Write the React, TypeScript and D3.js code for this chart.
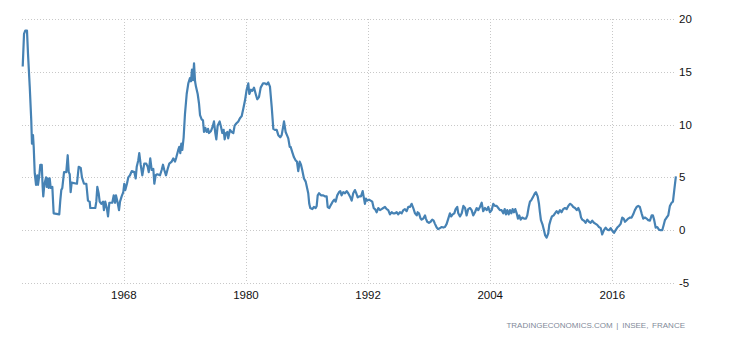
import React, { useEffect, useRef } from 'react';
import * as d3 from 'd3';

// France inflation rate (%, YoY)
const YEARS: number[] = [
  1958.07, 1958.2, 1958.32, 1958.49, 1958.59, 1958.76, 1958.91, 1958.98, 1959.08, 1959.15,
  1959.25, 1959.38, 1959.5, 1959.57, 1959.7, 1959.8, 1959.94, 1960.03, 1960.09, 1960.19,
  1960.36, 1960.43, 1960.52, 1960.62, 1960.72, 1960.82, 1960.98, 1961.11, 1961.66, 1961.76,
  1961.86, 1961.96, 1962.13, 1962.35, 1962.49, 1962.59, 1962.69, 1962.78, 1962.88, 1963.4,
  1963.57, 1963.77, 1963.89, 1964.09, 1964.32, 1964.48, 1964.65, 1964.71, 1965.07, 1965.2,
  1965.3, 1965.4, 1965.53, 1965.63, 1965.79, 1965.96, 1966.05, 1966.18, 1966.35, 1966.45,
  1966.58, 1966.87, 1967.01, 1967.14, 1967.23, 1967.4, 1967.53, 1967.63, 1967.79, 1967.95,
  1968.05, 1968.15, 1968.31, 1968.44, 1968.61, 1968.78, 1969.03, 1969.17, 1969.27, 1969.42,
  1969.52, 1969.66, 1969.82, 1970.01, 1970.21, 1970.35, 1970.45, 1970.6, 1970.74, 1970.9,
  1971.0, 1971.13, 1971.29, 1971.56, 1971.72, 1971.85, 1971.98, 1972.15, 1972.31, 1972.47,
  1972.71, 1972.86, 1973.03, 1973.16, 1973.35, 1973.45, 1973.55, 1973.65, 1973.75, 1973.88,
  1974.01, 1974.18, 1974.34, 1974.5, 1974.6, 1974.7, 1974.8, 1974.9, 1975.0, 1975.09,
  1975.26, 1975.39, 1975.49, 1975.65, 1975.78, 1975.88, 1976.01, 1976.14, 1976.27, 1976.37,
  1976.57, 1976.73, 1976.86, 1976.99, 1977.09, 1977.22, 1977.42, 1977.55, 1977.68, 1977.81,
  1977.91, 1978.04, 1978.17, 1978.26, 1978.43, 1978.6, 1978.76, 1978.89, 1979.05, 1979.25,
  1979.41, 1979.58, 1979.74, 1979.91, 1980.07, 1980.23, 1980.33, 1980.5, 1980.63, 1980.79,
  1980.96, 1981.11, 1981.28, 1981.45, 1981.67, 1981.87, 1982.04, 1982.19, 1982.36, 1982.53,
  1982.69, 1982.85, 1983.02, 1983.18, 1983.37, 1983.51, 1983.64, 1983.74, 1983.9, 1984.03,
  1984.16, 1984.3, 1984.39, 1984.55, 1984.72, 1984.89, 1985.01, 1985.14, 1985.28, 1985.41,
  1985.53, 1985.7, 1985.87, 1986.03, 1986.12, 1986.22, 1986.32, 1986.52, 1986.68, 1986.85,
  1986.95, 1987.05, 1987.18, 1987.37, 1987.6, 1987.76, 1987.93, 1988.03, 1988.19, 1988.35,
  1988.52, 1988.68, 1988.81, 1988.97, 1989.14, 1989.27, 1989.4, 1989.56, 1989.73, 1989.9,
  1990.05, 1990.22, 1990.39, 1990.54, 1990.71, 1990.84, 1990.98, 1991.13, 1991.3, 1991.47,
  1991.56, 1991.69, 1991.79, 1991.92, 1992.09, 1992.25, 1992.41, 1992.55, 1992.68, 1992.84,
  1993.0, 1993.17, 1993.33, 1993.49, 1993.66, 1993.83, 1993.98, 1994.15, 1994.32, 1994.47,
  1994.64, 1994.81, 1994.96, 1995.13, 1995.3, 1995.46, 1995.62, 1995.79, 1995.95, 1996.11,
  1996.28, 1996.44, 1996.61, 1996.78, 1996.87, 1997.0, 1997.16, 1997.26, 1997.42, 1997.59,
  1997.68, 1997.81, 1997.98, 1998.14, 1998.3, 1998.44, 1998.57, 1998.74, 1998.89, 1999.06,
  1999.23, 1999.39, 1999.55, 1999.72, 1999.88, 2000.04, 2000.17, 2000.31, 2000.47, 2000.6,
  2000.76, 2000.86, 2001.03, 2001.2, 2001.36, 2001.53, 2001.68, 2001.84, 2002.01, 2002.17,
  2002.33, 2002.5, 2002.67, 2002.82, 2002.99, 2003.16, 2003.31, 2003.48, 2003.65, 2003.81,
  2003.97, 2004.14, 2004.3, 2004.46, 2004.63, 2004.79, 2004.95, 2005.12, 2005.28, 2005.42,
  2005.54, 2005.67, 2005.81, 2005.94, 2006.07, 2006.2, 2006.33, 2006.46, 2006.6, 2006.72,
  2006.85, 2006.99, 2007.15, 2007.32, 2007.51, 2007.64, 2007.78, 2007.9, 2008.07, 2008.23,
  2008.39, 2008.49, 2008.66, 2008.79, 2008.88, 2008.98, 2009.15, 2009.28, 2009.4, 2009.54,
  2009.7, 2009.8, 2009.93, 2010.06, 2010.23, 2010.36, 2010.52, 2010.68, 2010.85, 2011.01,
  2011.17, 2011.34, 2011.51, 2011.67, 2011.83, 2012.0, 2012.16, 2012.33, 2012.5, 2012.66,
  2012.82, 2012.92, 2013.04, 2013.21, 2013.37, 2013.53, 2013.7, 2013.86, 2014.02, 2014.19,
  2014.36, 2014.51, 2014.68, 2014.85, 2015.0, 2015.17, 2015.34, 2015.5, 2015.66, 2015.83,
  2015.99, 2016.16, 2016.32, 2016.48, 2016.64, 2016.81, 2016.97, 2017.11, 2017.24, 2017.4,
  2017.56, 2017.73, 2017.89, 2018.05, 2018.21, 2018.38, 2018.54, 2018.7, 2018.87, 2019.03,
  2019.2, 2019.36, 2019.52, 2019.69, 2019.86, 2019.98, 2020.11, 2020.25, 2020.41, 2020.57,
  2020.74, 2020.9, 2021.04, 2021.16, 2021.33, 2021.49, 2021.65, 2021.82, 2021.95, 2022.08,
  2022.24,
];

const RATES: number[] = [
  15.5, 18.6, 18.9, 18.9, 16.7, 13.6, 10.4, 8.2, 9.0, 7.9,
  5.4, 4.3, 5.2, 4.3, 5.2, 6.2, 6.2, 4.1, 3.2, 4.3,
  5.0, 4.1, 4.9, 4.0, 4.9, 4.0, 4.1, 1.6, 1.5, 2.8,
  3.8, 4.0, 5.5, 5.5, 7.1, 5.5, 5.3, 3.6, 4.5, 4.4,
  6.0, 5.9, 5.0, 4.4, 4.4, 2.8, 2.7, 2.1, 2.1, 2.1,
  2.7, 4.1, 3.5, 2.7, 2.5, 2.7, 1.9, 2.7, 2.0, 1.3,
  2.6, 2.6, 3.3, 2.6, 3.3, 2.6, 1.9, 2.7, 3.2, 3.6,
  4.4, 3.8, 4.4, 5.0, 5.2, 5.6, 5.5, 4.9, 6.0, 6.6,
  7.3, 6.2, 5.2, 6.3, 6.3, 6.0, 5.5, 6.8, 5.7, 5.8,
  4.4, 5.2, 5.3, 5.2, 5.7, 6.2, 5.7, 5.2, 5.8, 6.3,
  6.5, 6.8, 6.5, 6.9, 7.6, 7.9, 7.3, 8.2, 7.6, 8.8,
  11.0, 12.9, 13.9, 14.4, 14.1, 15.2, 14.2, 15.8, 14.1, 13.6,
  12.9, 12.0, 10.9, 10.5, 10.4, 9.3, 9.7, 9.3, 9.6, 9.2,
  9.4, 9.8, 10.3, 9.2, 8.6, 9.9, 10.3, 9.8, 9.2, 9.5,
  8.6, 9.2, 9.3, 8.7, 9.5, 9.3, 9.2, 9.9, 10.1, 10.3,
  10.6, 10.8, 11.5, 12.3, 13.3, 13.9, 12.9, 13.3, 13.2, 13.5,
  12.9, 12.4, 12.6, 13.5, 13.9, 13.9, 13.8, 14.0, 13.6, 11.7,
  9.6, 9.5, 9.5, 9.0, 8.8, 9.0, 9.7, 10.3, 9.3, 9.0,
  8.7, 7.9, 7.9, 7.4, 6.9, 6.6, 6.5, 5.6, 6.5, 6.2,
  5.7, 4.9, 4.6, 3.9, 3.5, 2.5, 2.1, 2.0, 2.2, 2.1,
  2.3, 3.3, 3.5, 3.3, 3.3, 3.2, 3.2, 2.2, 2.1, 2.4,
  2.7, 2.9, 2.7, 3.3, 3.6, 3.7, 3.3, 3.6, 3.5, 3.7,
  3.5, 3.2, 2.8, 3.5, 3.8, 3.5, 3.1, 3.2, 3.2, 3.7,
  3.2, 2.5, 3.0, 2.8, 2.9, 2.8, 2.7, 2.1, 2.0, 1.7,
  2.1, 1.9, 2.0, 2.1, 2.2, 2.0, 1.9, 1.5, 1.7, 1.6,
  1.6, 1.7, 1.5, 1.7, 1.6, 1.9, 2.0, 1.8, 2.2, 2.2,
  2.5, 2.1, 1.6, 1.4, 1.7, 1.6, 1.1, 1.0, 1.1, 1.4,
  1.1, 0.8, 0.7, 0.8, 1.0, 0.9, 0.6, 0.25, 0.1, 0.2,
  0.3, 0.25, 0.3, 0.6, 1.1, 1.6, 1.3, 1.5, 1.6, 2.0,
  2.2, 1.6, 1.3, 1.6, 2.3, 2.1, 1.4, 2.0, 2.1, 1.9,
  1.4, 1.7, 2.1, 1.9, 2.2, 2.6, 1.8, 2.1, 1.9, 2.2,
  1.7, 1.9, 2.5, 2.3, 2.3, 2.1, 1.9, 1.9, 1.6, 2.0,
  1.5, 1.9, 1.5, 1.9, 1.6, 2.0, 1.7, 2.0, 1.6, 1.1,
  1.4, 1.0, 1.2, 1.1, 1.1, 1.4, 2.2, 2.7, 2.9, 3.2,
  3.5, 3.6, 3.2, 2.5, 1.7, 0.95, 0.5, 0.0, -0.5, -0.7,
  -0.3, 0.5, 0.95, 1.3, 1.4, 1.6, 1.8, 1.6, 1.9, 1.7,
  2.0, 2.1, 2.0, 2.3, 2.5, 2.4, 2.2, 2.1, 1.9, 2.1,
  1.7, 1.2, 1.0, 0.9, 0.7, 1.0, 0.8, 0.7, 0.9, 0.7,
  0.6, 0.5, 0.3, 0.2, -0.4, 0.0, 0.25, 0.05, 0.0, 0.2,
  -0.05, -0.25, 0.0, 0.25, 0.4, 0.6, 1.2, 1.1, 0.8, 0.95,
  1.1, 1.2, 1.2, 1.5, 1.9, 2.2, 2.3, 2.2, 1.6, 1.1,
  1.2, 1.1, 0.95, 0.9, 1.4, 1.4, 0.95, 0.25, 0.3, 0.05,
  0.0, 0.0, 0.5, 0.95, 1.2, 1.4, 2.3, 2.6, 2.7, 3.8,
  5.1,
];

const X_TICKS = [1968, 1980, 1992, 2004, 2016];
const Y_TICKS = [-5, 0, 5, 10, 15, 20];
const SOURCE = 'TRADINGECONOMICS.COM | INSEE, FRANCE';

const WIDTH = 730;
const HEIGHT = 340;

const App: React.FC = () => {
  const svgRef = useRef<SVGSVGElement>(null);

  useEffect(() => {
    if (!svgRef.current) return;
    const svg = d3.select(svgRef.current);
    svg.selectAll('*').remove();

    const plot = { left: 22, right: 676, top: 19, bottom: 283 };

    const x = d3.scaleLinear().domain([1958, 2022.25]).range([plot.left, plot.right]);
    const y = d3.scaleLinear().domain([-5, 20]).range([plot.bottom, plot.top]);

    const grid = svg.append('g').attr('class', 'grid');

    // horizontal gridlines
    grid.selectAll('line.h')
      .data(Y_TICKS)
      .enter()
      .append('line')
      .attr('class', 'h')
      .attr('x1', plot.left)
      .attr('x2', plot.right)
      .attr('y1', (d) => Math.round(y(d)) + 0.5)
      .attr('y2', (d) => Math.round(y(d)) + 0.5)
      .attr('stroke', '#c8c8c8')
      .attr('stroke-width', 1)
      .attr('stroke-dasharray', '1,2');

    // vertical gridlines
    grid.selectAll('line.v')
      .data(X_TICKS)
      .enter()
      .append('line')
      .attr('class', 'v')
      .attr('x1', (d) => Math.round(x(d)) + 0.5)
      .attr('x2', (d) => Math.round(x(d)) + 0.5)
      .attr('y1', plot.top)
      .attr('y2', plot.bottom)
      .attr('stroke', '#c8c8c8')
      .attr('stroke-width', 1)
      .attr('stroke-dasharray', '1,2');

    // y tick labels on the right
    svg.append('g')
      .selectAll('text')
      .data(Y_TICKS)
      .enter()
      .append('text')
      .attr('x', plot.right + 3)
      .attr('y', (d) => y(d) + 4)
      .attr('fill', '#111')
      .attr('font-family', '"Liberation Sans", Arial, sans-serif')
      .attr('font-size', '11.5px')
      .text((d) => String(d));

    // x tick labels
    svg.append('g')
      .selectAll('text')
      .data(X_TICKS)
      .enter()
      .append('text')
      .attr('x', (d) => x(d))
      .attr('y', plot.bottom + 16)
      .attr('text-anchor', 'middle')
      .attr('fill', '#111')
      .attr('font-family', '"Liberation Sans", Arial, sans-serif')
      .attr('font-size', '11.5px')
      .text((d) => String(d));

    // the series line
    const data = YEARS.map((yr, i) => ({ yr, v: RATES[i] }));
    const line = d3.line<{ yr: number; v: number }>()
      .x((d) => x(d.yr))
      .y((d) => y(d.v));

    svg.append('path')
      .datum(data)
      .attr('d', line)
      .attr('fill', 'none')
      .attr('stroke', '#4682b4')
      .attr('stroke-width', 2.2)
      .attr('stroke-linejoin', 'round');

    // source note
    svg.append('text')
      .attr('x', 685)
      .attr('y', 328)
      .attr('text-anchor', 'end')
      .attr('fill', '#7f8a99')
      .attr('font-family', '"Liberation Sans", Arial, sans-serif')
      .attr('font-size', '8px')
      .attr('word-spacing', '1.5px')
      .text(SOURCE);
  }, []);

  return (
    <svg
      ref={svgRef}
      width={WIDTH}
      height={HEIGHT}
      style={{ position: 'absolute', left: 0, top: 0, display: 'block', background: '#fff' }}
    />
  );
};

export default App;
